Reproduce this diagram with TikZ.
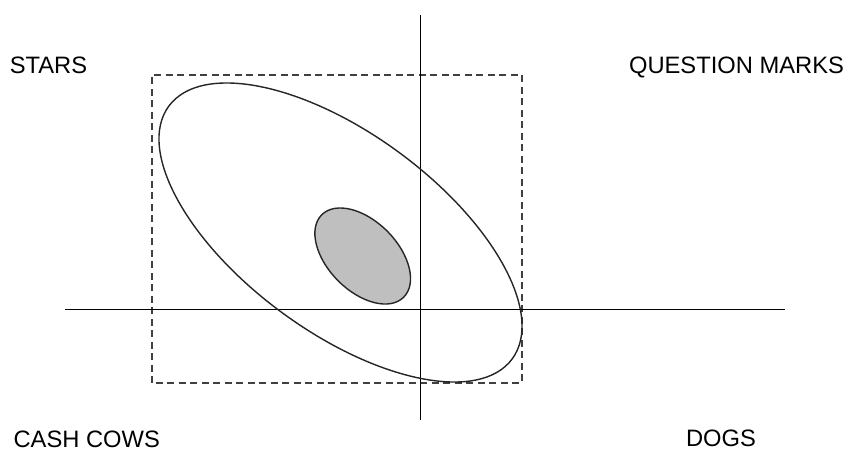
\documentclass[tikz,border=0pt]{standalone}
\usepackage{fontspec}
\setmainfont{Liberation Sans}
\usepackage{tikz}
\usetikzlibrary{positioning,calc}

\begin{document}
\begin{tikzpicture}[
    axis/.style={line width=0.6pt},
    curve/.style={line width=0.8pt, black!85},
    boxline/.style={line width=0.75pt, black!75, dash pattern=on 0.14cm off 0.09cm},
    label/.style={anchor=base, inner sep=0pt, font=\fontsize{13.5}{16}\selectfont}
]
\useasboundingbox (0,0) rectangle (16.98,9.02);

\draw[boxline] (3.04,1.36) rectangle (10.44,7.52);

\draw[axis] (8.414,0.62) -- (8.414,8.72);
\draw[axis] (1.30,2.834) -- (15.70,2.834);

\draw[curve] (6.81,4.37) ellipse[x radius=4.264, y radius=1.984, rotate=-36.35];
\filldraw[curve, fill=black!25] (7.254,3.90) ellipse[x radius=1.162, y radius=0.698, rotate=-45.25];

\node[label] (stars) at (0.97,7.554) {STARS};
\node[label] (question) at (14.73,7.554) {QUESTION MARKS};
\node[label] (cows) at (1.734,0.07) {CASH COWS};
\node[label] (dogs) at (14.42,0.09) {DOGS};

\end{tikzpicture}
\end{document}
